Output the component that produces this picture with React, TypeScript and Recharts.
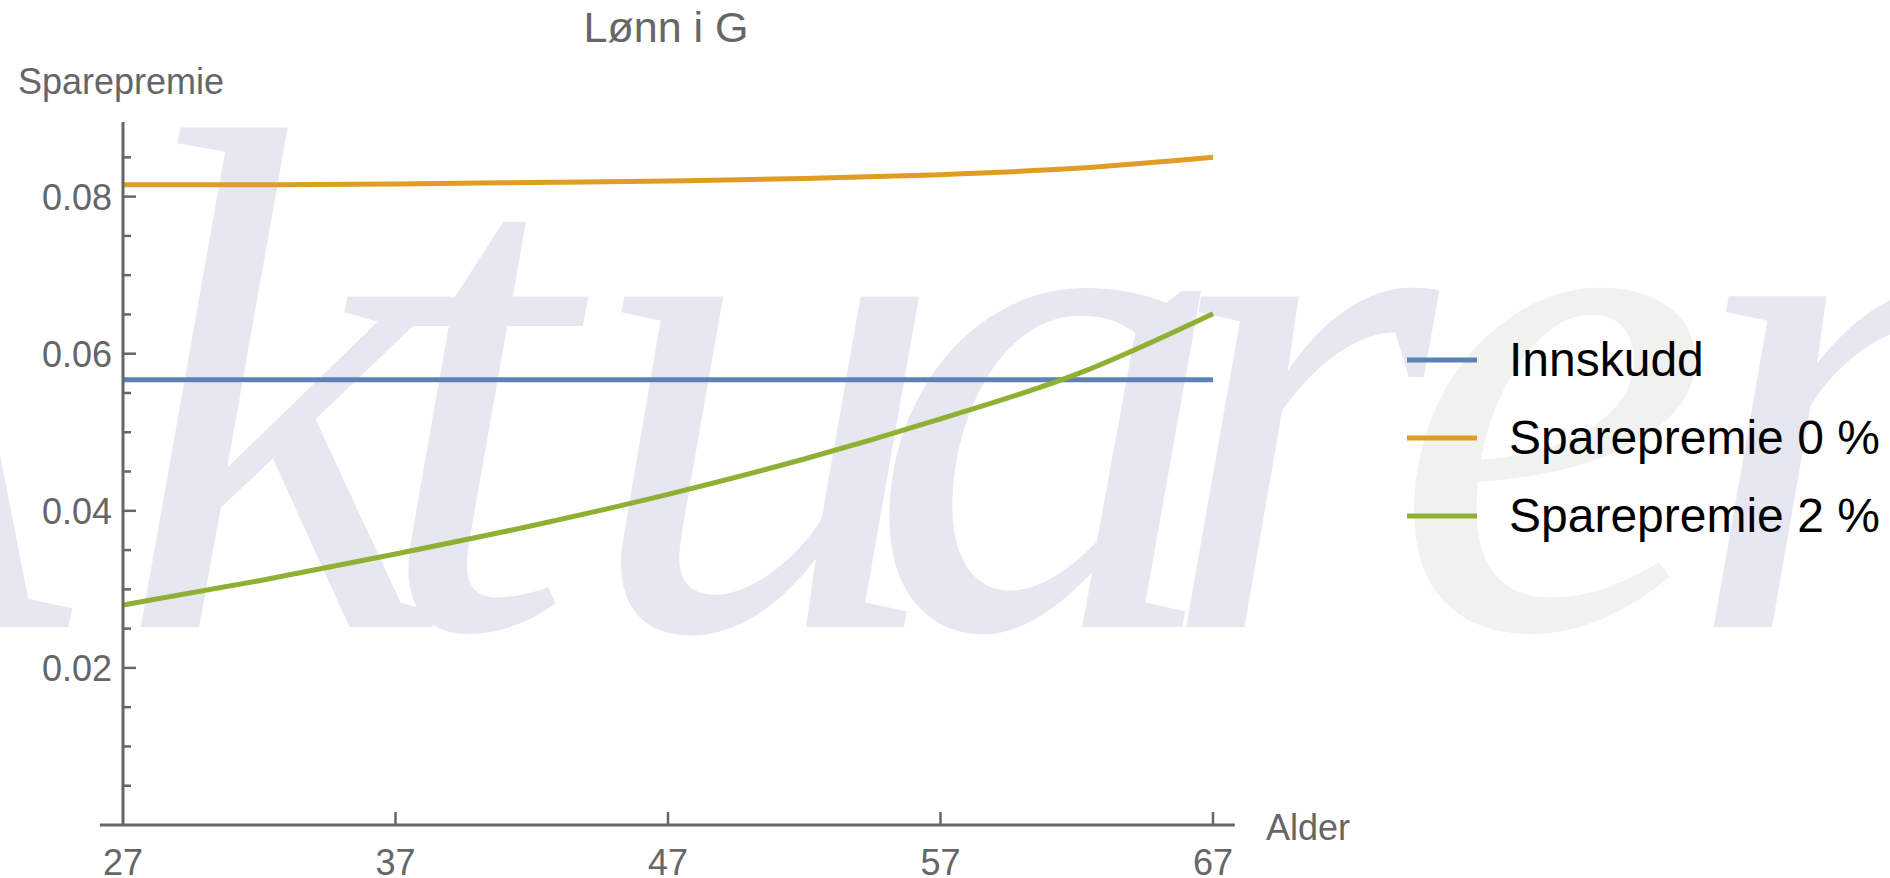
import React from "react";
import { LineChart, Line, XAxis, YAxis, Legend, ReferenceLine, Label } from "recharts";

// Alder (age) and the three premium series
const AGES = [27, 32, 37, 42, 47, 52, 57, 62, 67];
const INNSKUDD = [0.0567, 0.0567, 0.0567, 0.0567, 0.0567, 0.0567, 0.0567, 0.0567, 0.0567];
const SPARE_0 = [0.0815, 0.0815, 0.0816, 0.0818, 0.082, 0.0823, 0.0828, 0.0836, 0.085];
const SPARE_2 = [0.028, 0.0311, 0.0345, 0.0381, 0.0421, 0.0466, 0.0517, 0.0574, 0.0651];

const X_TICKS = [27, 37, 47, 57, 67];
const Y_TICKS = [
  0.005, 0.01, 0.015, 0.02, 0.025, 0.03, 0.035, 0.04, 0.045, 0.05, 0.055, 0.06, 0.065, 0.07,
  0.075, 0.08, 0.085,
];
const Y_LABELED = [0.02, 0.04, 0.06, 0.08];

const SERIES = [
  { key: "innskudd", name: "Innskudd", color: "#5E81B5" },
  { key: "spare0", name: "Sparepremie 0 %", color: "#E19C24" },
  { key: "spare2", name: "Sparepremie 2 %", color: "#8FB032" },
];

const data = AGES.map((age, i) => ({
  age,
  innskudd: INNSKUDD[i],
  spare0: SPARE_0[i],
  spare2: SPARE_2[i],
}));

const AXIS = "#666666";
const FONT = '"Liberation Sans", Arial, sans-serif';

const YTick = (props: any) => {
  const { x, y, payload } = props;
  const major = Y_LABELED.some((v) => Math.abs(v - payload.value) < 1e-9);
  return (
    <g>
      <line x1={x} x2={x + (major ? 13 : 8)} y1={y} y2={y} stroke={AXIS} strokeWidth={2.5} />
      {major && (
        <text x={x - 11} y={y} dy={13} textAnchor="end" fontSize={36} fontFamily={FONT} fill={AXIS}>
          {payload.value.toFixed(2)}
        </text>
      )}
    </g>
  );
};

const XTick = (props: any) => {
  const { x, y, payload } = props;
  return (
    <g>
      {payload.value !== 27 && (
        <line x1={x} x2={x} y1={y} y2={y - 13} stroke={AXIS} strokeWidth={2.5} />
      )}
      <text x={x} y={y} dy={50} textAnchor="middle" fontSize={36} fontFamily={FONT} fill={AXIS}>
        {payload.value}
      </text>
    </g>
  );
};

const renderLegend = (props: any) => {
  const { payload } = props;
  return (
    <div style={{ fontFamily: FONT }}>
      {payload.map((entry: any) => (
        <div key={entry.value} style={{ display: "flex", alignItems: "center", height: 78 }}>
          <svg width={70} height={6}>
            <line x1={0} x2={70} y1={3} y2={3} stroke={entry.color} strokeWidth={5} />
          </svg>
          <span style={{ marginLeft: 32, fontSize: 48, color: "#000", lineHeight: 1 }}>{entry.value}</span>
        </div>
      ))}
    </div>
  );
};

export default function App() {
  return (
    <div
      style={{
        position: "absolute",
        left: 0,
        top: 0,
        width: 1890,
        height: 878,
        overflow: "hidden",
        background: "#fff",
      }}
    >
      {/* watermark */}
      <svg width={1890} height={878} style={{ position: "absolute", left: 0, top: 0 }}>
        <text
          y={627}
          fontFamily='"Liberation Serif", serif'
          fontStyle="italic"
          fontSize={720}
          fill="#E7E7F2"
        >
          <tspan x={-370}>A</tspan>
          <tspan x={120}>k</tspan>
          <tspan x={374}>t</tspan>
          <tspan x={585}>u</tspan>
          <tspan x={868}>a</tspan>
          <tspan x={1157}>r</tspan>
          <tspan x={1392} fill="#EFF2EF">e</tspan>
          <tspan x={1688}>n</tspan>
        </text>
      </svg>

      <div style={{ position: "absolute", left: 0, top: 0 }}>
        <LineChart
          width={1890}
          height={878}
          data={data}
          margin={{ top: 122, right: 677, bottom: 0, left: 0 }}
        >
          <XAxis
            dataKey="age"
            type="number"
            domain={[27, 67]}
            ticks={X_TICKS}
            axisLine={false}
            tickLine={false}
            tickSize={0}
            tickMargin={0}
            height={53}
            tick={<XTick />}
            interval={0}
          >
            <Label
              content={() => (
                <text x={1266} y={840} fontSize={36} fontFamily={FONT} fill={AXIS}>
                  Alder
                </text>
              )}
            />
          </XAxis>
          <YAxis
            type="number"
            domain={[0, 0.0895]}
            ticks={Y_TICKS}
            width={123}
            axisLine={{ stroke: AXIS, strokeWidth: 3 }}
            tickLine={false}
            tickSize={0}
            tickMargin={0}
            tick={<YTick />}
            interval={0}
          >
            <Label
              content={() => (
                <g>
                  <text x={18} y={94} fontSize={36} fontFamily={FONT} fill={AXIS}>
                    Sparepremie
                  </text>
                  <text x={666} y={42} textAnchor="middle" fontSize={43} fontFamily={FONT} fill={AXIS}>
                    Lønn i G
                  </text>
                </g>
              )}
            />
          </YAxis>
          <ReferenceLine
            segment={[
              { x: 26.15, y: 0 },
              { x: 67.8, y: 0 },
            ]}
            stroke={AXIS}
            strokeWidth={3}
            ifOverflow="visible"
          />
          {SERIES.map((s) => (
            <Line
              key={s.key}
              dataKey={s.key}
              name={s.name}
              type="monotone"
              stroke={s.color}
              strokeWidth={5}
              dot={false}
              activeDot={false}
              isAnimationActive={false}
            />
          ))}
          <Legend
            layout="horizontal"
            verticalAlign="middle"
            align="center"
            content={renderLegend}
            wrapperStyle={{ left: 1407, top: 321, width: 480 }}
          />
        </LineChart>
      </div>
    </div>
  );
}
